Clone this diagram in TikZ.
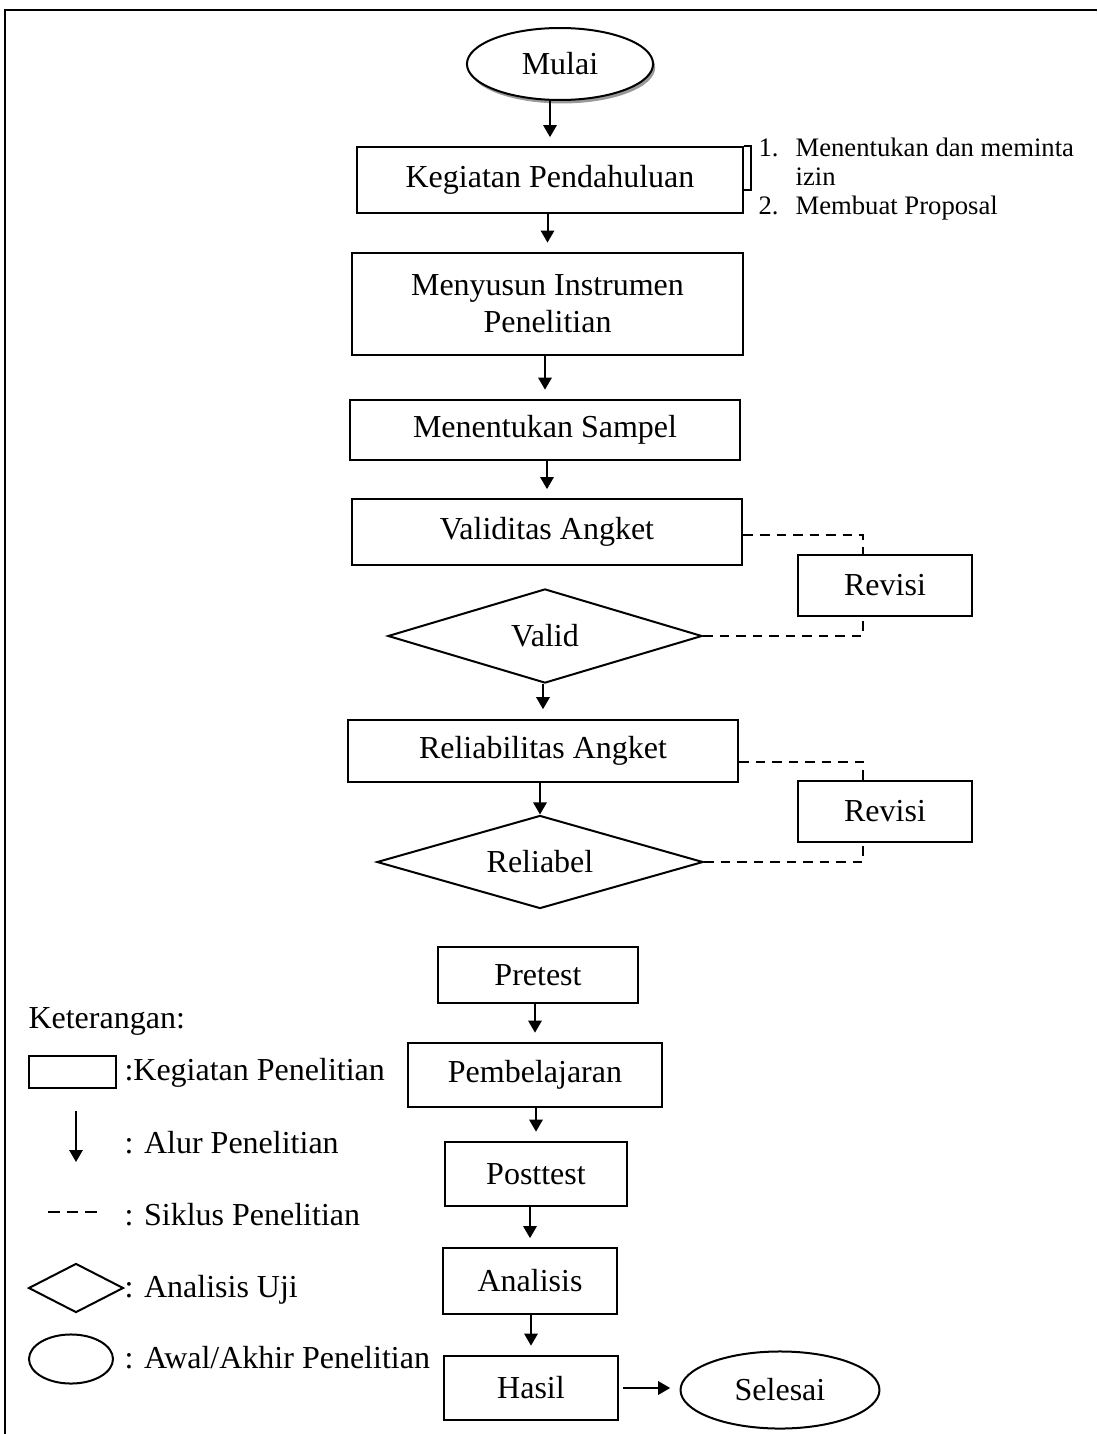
\documentclass[tikz,border=0pt]{standalone}
\usepackage{fontspec}
\setmainfont{Liberation Serif}
\usetikzlibrary{shapes, arrows.meta, positioning, shadows}

\newcommand{\listnum}[1]{\makebox[13.9pt][l]{#1}}

\begin{document}
\begin{tikzpicture}[
        x=0.375pt, y=-0.375pt,
        font=\fontsize{12}{13.9}\selectfont,
        every node/.style={inner sep=0pt},
        proses/.style={rectangle, draw, line width=0.75pt, align=center},
        uji/.style={diamond, aspect=3.5, draw, line width=0.75pt},
        terminal/.style={ellipse, draw, fill=white, line width=0.75pt},
        flow/.style={-{Triangle[length=4.5pt, width=5pt]}, line width=0.75pt, shorten >=3.5pt},
        siklus/.style={line width=0.75pt, dash pattern=on 3.6pt off 2.6pt}
    ]
        \useasboundingbox (0,0) rectangle (1097,1434);
        \draw[line width=0.75pt] (5,1434) -- (5,10) -- (1097,10);

        % Alur utama
        \node[terminal, minimum width=69.8pt, minimum height=27pt,
              drop shadow={shadow xshift=0.8pt, shadow yshift=-1.3pt, fill=gray!80, opacity=1}] (mulai) at (560,64) {Mulai};
        \node[proses, minimum width=144.4pt, minimum height=24.4pt] (pendahuluan) at (550,180) {Kegiatan Pendahuluan};
        \node[proses, minimum width=146.6pt, minimum height=38.3pt] (instrumen) at (547.5,304) {Menyusun Instrumen\\Penelitian};
        \node[proses, minimum width=146.3pt, minimum height=22.5pt] (sampel) at (545,430) {Menentukan Sampel};
        \node[proses, minimum width=146.6pt, minimum height=24.4pt] (validitas) at (547,532) {Validitas Angket};
        \node[uji, minimum width=117.8pt, minimum height=35.3pt] (valid) at (545,636) {Valid};
        \node[proses, minimum width=146.3pt, minimum height=23.6pt] (reliabilitas) at (543,751) {Reliabilitas Angket};
        \node[uji, minimum width=122.3pt, minimum height=34.9pt] (reliabel) at (540,862) {Reliabel};
        \node[proses, minimum width=75pt, minimum height=21pt] (pretest) at (538,975) {Pretest};
        \node[proses, minimum width=95.6pt, minimum height=24pt] (pembelajaran) at (535,1075) {Pembelajaran};
        \node[proses, minimum width=67.9pt, minimum height=24pt] (posttest) at (536,1174) {Posttest};
        \node[proses, minimum width=65.6pt, minimum height=24.4pt] (analisis) at (530,1281) {Analisis};
        \node[proses, minimum width=65.6pt, minimum height=24pt] (hasil) at (531,1388) {Hasil};
        \node[terminal, minimum width=74.6pt, minimum height=28.9pt] (selesai) at (780,1390) {Selesai};

        % Revisi
        \node[proses, minimum width=65.3pt, minimum height=22.9pt] (revisi1) at (885,585.5) {Revisi};
        \node[proses, minimum width=65.3pt, minimum height=22.9pt] (revisi2) at (885,811.5) {Revisi};

        % Keterangan kegiatan pendahuluan
        \draw[line width=0.75pt] (pendahuluan.north east) -- ++(2.8pt,0) |- ([yshift=-16.5pt]pendahuluan.north east);
        \node[anchor=north west, align=left, font=\fontsize{10}{11}\selectfont] (langkah) at (758,137)
            {\listnum{1.}Menentukan dan meminta\\\listnum{}izin\\\listnum{2.}Membuat Proposal};

        \foreach \a/\b in {mulai/pendahuluan, pendahuluan/instrumen, instrumen/sampel, sampel/validitas,
                           valid/reliabilitas, pretest/pembelajaran, pembelajaran/posttest,
                           posttest/analisis, analisis/hasil}
            \draw[flow] (\b.north |- \a.south) -- (\b.north);
        \draw[flow, shorten >=0pt] (reliabel.north |- reliabilitas.south) -- (reliabel.north);
        \draw[flow, shorten <=1.5pt] (hasil.east) -- (selesai.west |- hasil.east);

        \draw[siklus] ([yshift=-1pt]validitas.east) -| ([xshift=-8.25pt]revisi1.north);
        \draw[siklus] (valid.east) -| ([xshift=-8.25pt]revisi1.south);
        \draw[siklus] ([yshift=-4pt]reliabilitas.east) -| ([xshift=-8.25pt]revisi2.north);
        \draw[siklus] (reliabel.east) -| ([xshift=-8.25pt]revisi2.south);

        % Keterangan
        \node[anchor=base west] (keterangan) at (28,1028) {Keterangan:};
        \node[proses, minimum width=32.6pt, minimum height=12pt] (legproses) at (72.5,1072) {};
        \node[anchor=base west] (ketproses) at (124,1080) {:Kegiatan Penelitian};
        \coordinate (legflowa) at (76,1111);
        \coordinate (legflowb) at (76,1162);
        \draw[flow, shorten >=0pt] (legflowa) -- (legflowb);
        \node[anchor=base west] (ketflow) at (124,1153) {: Alur Penelitian};
        \coordinate (legsiklusa) at (48,1212);
        \coordinate (legsiklusb) at (97,1212);
        \draw[siklus, dash pattern=on 4.4pt off 2.6pt] (legsiklusa) -- (legsiklusb);
        \node[anchor=base west] (ketsiklus) at (124,1225) {: Siklus Penelitian};
        \node[uji, minimum width=35.6pt, minimum height=18.4pt] (leguji) at (76,1288) {};
        \node[anchor=base west] (ketuji) at (124,1297) {: Analisis Uji};
        \node[terminal, minimum width=31.5pt, minimum height=18.4pt] (legterminal) at (71,1359) {};
        \node[anchor=base west] (ketterminal) at (124,1368) {: Awal/Akhir Penelitian};
    \end{tikzpicture}
\end{document}
